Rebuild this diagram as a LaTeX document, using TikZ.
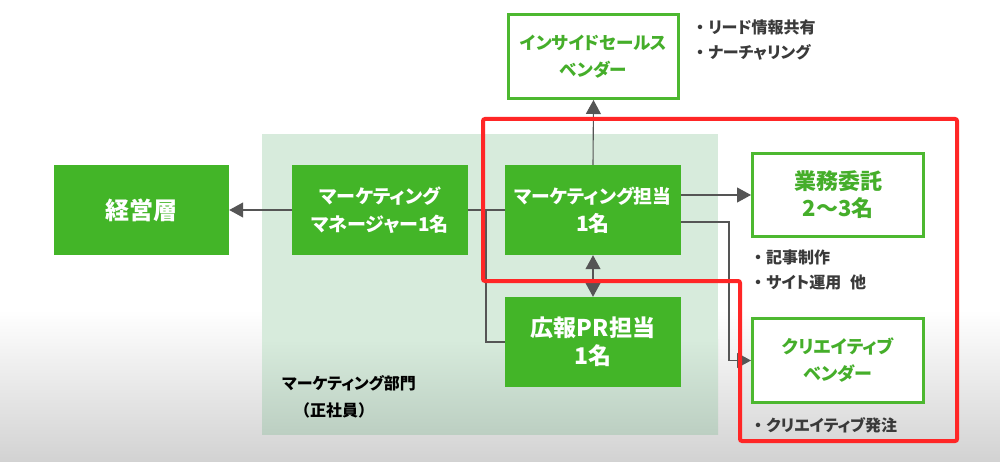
\documentclass[tikz,border=0pt]{standalone}
\usepackage{fontspec}
\setmainfont{Noto Sans CJK JP}[RawFeature=+palt]
\newfontfamily\jpfull{Noto Sans CJK JP}
\usetikzlibrary{arrows.meta}
\definecolor{gfill}{HTML}{43B528}
\definecolor{gline}{HTML}{4DB830}
\definecolor{gtext}{HTML}{45AE2A}
\definecolor{panelc}{HTML}{D7EBDC}
\definecolor{panelb}{HTML}{BCCFC2}
\definecolor{bgbot}{HTML}{D2D2D2}
\definecolor{conn}{HTML}{555555}
\definecolor{redl}{HTML}{FF2626}
\definecolor{notec}{HTML}{3A3A3A}
\newcommand{\fs}[1]{\fontsize{#1}{28}\selectfont}
\newcommand{\bul}{{\jpfull\bfseries ・}}
\tikzset{
  gbox/.style={rectangle, fill=gfill, text=white, minimum width=176, minimum height=90,
    inner sep=0, align=center, font=\bfseries\fontsize{21}{28}\selectfont},
  obox/.style={rectangle, draw=gline, line width=3, fill=white, text=gtext,
    minimum width=171, minimum height=84, inner sep=0, align=center,
    font=\bfseries\fontsize{17.5}{27}\selectfont},
  connline/.style={draw=conn, line width=1.1},
  tip/.style={-{Triangle[length=14,width=15]}},
  note/.style={anchor=west, inner sep=0, text=notec, font=\bfseries\fontsize{16}{18}\selectfont},
}
\begin{document}
\begin{tikzpicture}[x=1pt,y=-1pt]
\useasboundingbox (0,0) rectangle (1000,462);
\fill[white] (0,0) rectangle (1000,462);
\shade[top color=white, bottom color=bgbot] (0,310) rectangle (1000,462);
% panel
\fill[panelc] (262,134) rectangle (718,340);
\shade[top color=panelc, bottom color=panelb] (262,339.5) rectangle (718,434);
% nodes
\node[gbox, minimum width=175, font=\bfseries\fontsize{24}{28}\selectfont] (keiei) at (141.5,210) {経営層};
\node[gbox, font=\bfseries\fontsize{19}{28}\selectfont] (mgr) at (380,210) {マーケティング\\マネージャー1名};
\node[gbox] (tanto) at (593,210) {{\fs{18.8}マーケティング担当}\\1名};
\node[gbox, font=\bfseries\fontsize{23}{28}\selectfont] (pr) at (593,342) {広報PR担当\\1名};
\node[obox, minimum width=170, minimum height=84] (inside) at (593.5,56.5) {インサイドセールス\\ベンダー};
\node[obox, minimum height=83, font=\bfseries\fontsize{22}{27}\selectfont] (gyomu) at (838,195) {業務委託\\2〜3名};
\node[obox, minimum height=84, font=\bfseries\fontsize{18}{27}\selectfont] (creative) at (838,360.5) {クリエイティブ\\ベンダー};
% notes
\node[note] (n1) at (692,27) {\bul リード情報共有};
\node[note] (n2) at (692,52) {\bul ナーチャリング};
\node[note] (n3) at (750,257) {\bul 記事制作};
\node[note] (n4) at (750,282) {\bul サイト運用\hspace{0.55em}他};
\node[note] (n5) at (750,425) {\bul クリエイティブ発注};
\node[note, text=black] (dept) at (282,383) {マーケティング部門};
\node[note, text=black, font=\jpfull\bfseries\fontsize{16}{18}\selectfont] (dept2) at (294,410) {（正社員）};
% connectors
\draw[connline, tip] (mgr.west) -- (keiei.east);
\draw[connline] (mgr.east) -- (tanto.west);
\coordinate (br) at (486,210);
\draw[connline] (br) |- (pr.west);
\draw[connline, tip] (tanto.north) -- (inside.south);
\draw[connline, tip] (tanto.east |- gyomu.west) -- (gyomu.west);
\coordinate (t2) at (681,222);
\coordinate (c1) at (729,222);
\draw[connline, tip] (t2) -- (c1) |- (creative.west);
\draw[connline, {Triangle[length=14,width=15]}-{Triangle[length=14,width=15]}] (tanto.south) -- (pr.north);
% red highlight
\draw[redl, line width=4, rounded corners=2] (483,119) -- (957,119) -- (957,441) -- (740,441) -- (740,281) -- (483,281) -- cycle;
\end{tikzpicture}
\end{document}
